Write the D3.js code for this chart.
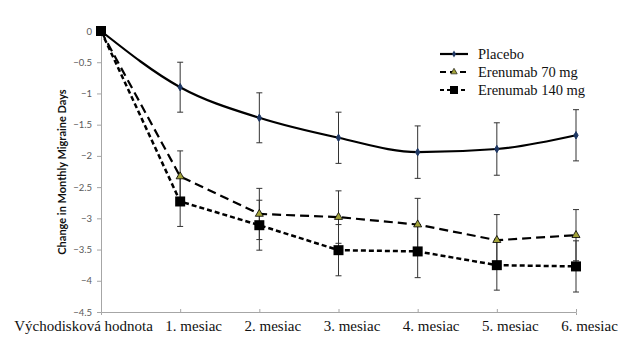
<!DOCTYPE html>
<html><head><meta charset="utf-8">
<script src="https://cdn.jsdelivr.net/npm/d3@7"></script>
<style>body{margin:0;background:#fff}svg{display:block}</style>
</head><body>
<script>
const categories = ["Východisková hodnota","1. mesiac","2. mesiac","3. mesiac","4. mesiac","5. mesiac","6. mesiac"];
const placebo   = [0, -0.90, -1.39, -1.71, -1.94, -1.89, -1.67];
const placeboErr= [0, 0.40, 0.40, 0.41, 0.42, 0.42, 0.41];
const ere70     = [0, -2.33, -2.93, -2.98, -3.10, -3.35, -3.27];
const ere70Err  = [0, 0.41, 0.41, 0.42, 0.42, 0.41, 0.41];
const ere140    = [0, -2.73, -3.11, -3.51, -3.53, -3.75, -3.77];
const ere140Err = [0, 0.40, 0.40, 0.41, 0.42, 0.40, 0.41];
const yTicks = [0,-0.5,-1,-1.5,-2,-2.5,-3,-3.5,-4,-4.5];
const seriesNames = ["Placebo","Erenumab 70 mg","Erenumab 140 mg"];

const SERIF='"Liberation Serif"';
const SANS='"Lato"';
const W=622,H=350;
const svg=d3.select("body").append("svg").attr("width",W).attr("height",H);
const x=d3.scalePoint().domain(categories).range([101,576]);
const y=d3.scaleLinear().domain([-4.5,0]).range([312,31]);

const yAx=svg.append("g").attr("transform","translate(101,0)")
  .call(d3.axisLeft(y).tickValues(yTicks).tickFormat(d=>d===0?"0":d3.format("")(d)).tickSize(4));
yAx.select(".domain").attr("stroke","#a6a6a6");
yAx.selectAll(".tick line").attr("stroke","#a6a6a6");
yAx.selectAll("text").attr("fill","#595959").style("font-family",SANS).style("font-size","9.5px").attr("x",-9);

const xAx=svg.append("g").attr("transform","translate(0,312)")
  .call(d3.axisBottom(x).tickSize(3));
xAx.select(".domain").attr("stroke","#a6a6a6");
xAx.selectAll(".tick line").attr("stroke","#a6a6a6").attr("y1",-3).attr("y2",0);
xAx.selectAll("text").attr("fill","#111").style("font-family",SERIF).style("font-size","15px")
  .attr("y",8).attr("dx",d=>d===categories[0]?-18:13);

svg.append("text").attr("transform","translate(66,172) rotate(-90)").attr("text-anchor","middle")
  .style("font-family",SANS).attr("font-weight","bold").style("font-size","11px").attr("fill","#111")
  .text("Change in Monthly Migraine Days");

function errBars(vals,errs){
  const g=svg.append("g");
  vals.forEach((v,i)=>{
    if(!errs[i])return;
    const cx=x(categories[i]);
    g.append("line").attr("x1",cx).attr("x2",cx).attr("y1",y(v+errs[i])).attr("y2",y(v-errs[i])).attr("stroke","#333").attr("stroke-width",1);
    [v+errs[i],v-errs[i]].forEach(e=>g.append("line").attr("x1",cx-3).attr("x2",cx+3).attr("y1",y(e)).attr("y2",y(e)).attr("stroke","#333").attr("stroke-width",1));
  });
}
errBars(placebo,placeboErr);
errBars(ere70,ere70Err);
errBars(ere140,ere140Err);

const lineS=d3.line().x((d,i)=>x(categories[i])).y(d=>y(d)).curve(d3.curveMonotoneX);
const lineL=d3.line().x((d,i)=>x(categories[i])).y(d=>y(d));
svg.append("path").datum(ere70).attr("d",lineL).attr("fill","none").attr("stroke","#000").attr("stroke-width",2.2).attr("stroke-dasharray","9,5");
svg.append("path").datum(ere140).attr("d",lineL).attr("fill","none").attr("stroke","#000").attr("stroke-width",2.5).attr("stroke-dasharray","5,3");
svg.append("path").datum(placebo).attr("d",lineS).attr("fill","none").attr("stroke","#000").attr("stroke-width",2.2);

const tri=d3.symbol().type(d3.symbolTriangle).size(28);
svg.append("g").selectAll("path").data(placebo).join("path")
  .attr("d",d3.symbol().type(d3.symbolDiamond).size(16)())
  .attr("transform",(d,i)=>`translate(${x(categories[i])},${y(d)})`).attr("fill","#1f3864").attr("stroke","#1f3864");
svg.append("g").selectAll("path").data(ere70).join("path")
  .attr("d",tri()).attr("transform",(d,i)=>`translate(${x(categories[i])},${y(d)})`).attr("fill","#a3a33a").attr("stroke","#000").attr("stroke-width",0.8);
svg.append("g").selectAll("rect").data(ere140).join("rect")
  .attr("x",(d,i)=>x(categories[i])-5).attr("y",d=>y(d)-5).attr("width",10).attr("height",10).attr("fill","#000");

const lg=svg.append("g");
const rows=[54,72,90];
const dashes=[null,"6,4","4,3"];
seriesNames.forEach((n,i)=>{
  lg.append("line").attr("x1",440).attr("x2",468).attr("y1",rows[i]).attr("y2",rows[i]).attr("stroke","#000").attr("stroke-width",2.2).attr("stroke-dasharray",dashes[i]);
  if(i===0) lg.append("path").attr("d",d3.symbol().type(d3.symbolDiamond).size(14)()).attr("transform",`translate(454,${rows[i]})`).attr("fill","#1f3864");
  if(i===1) lg.append("path").attr("d",d3.symbol().type(d3.symbolTriangle).size(18)()).attr("transform",`translate(454,${rows[i]})`).attr("fill","#a3a33a").attr("stroke","#000").attr("stroke-width",0.6);
  if(i===2) lg.append("rect").attr("x",450).attr("y",rows[i]-4).attr("width",8).attr("height",8).attr("fill","#000");
  lg.append("text").attr("x",478).attr("y",rows[i]+5).style("font-family",SERIF).style("font-size","14.5px").attr("fill","#111").text(n);
});
</script>
</body></html>
